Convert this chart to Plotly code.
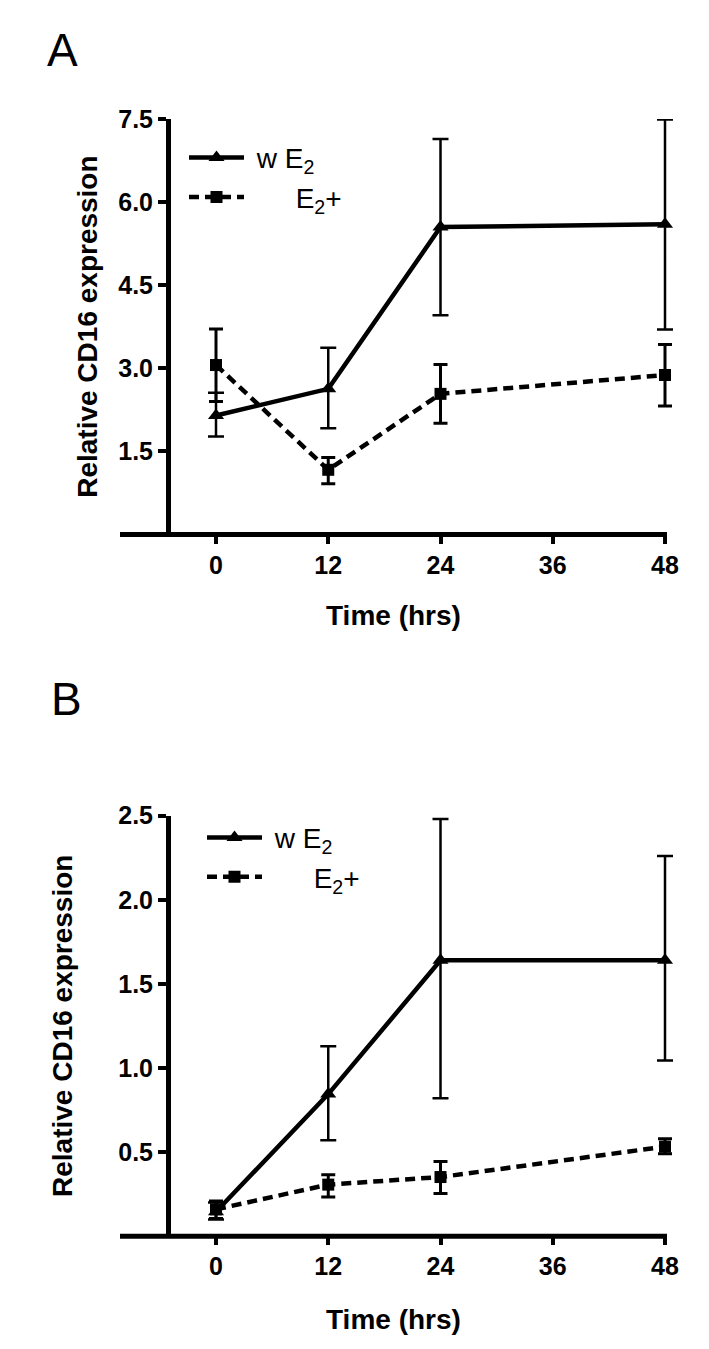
import plotly.graph_objects as go

W, H = 709, 1349

# ---------------- data ----------------
times = [0, 12, 24, 48]
x_ticks = [0, 12, 24, 36, 48]
x_ticktext = ["0", "12", "24", "36", "48"]

# Panel A
a_we2 = [2.15, 2.63, 5.55, 5.60]
a_we2_hi = [2.56, 3.37, 7.14, 7.49]
a_we2_lo = [1.77, 1.92, 3.96, 3.70]
a_e2p = [3.06, 1.17, 2.54, 2.88]
a_e2p_hi = [3.71, 1.39, 3.07, 3.43]
a_e2p_lo = [2.40, 0.92, 2.01, 2.32]
a_yticks = [1.5, 3.0, 4.5, 6.0, 7.5]
a_yticktext = ["1.5", "3.0", "4.5", "6.0", "7.5"]

# Panel B
b_we2 = [0.146, 0.845, 1.64, 1.64]
b_we2_hi = [0.20, 1.13, 2.48, 2.26]
b_we2_lo = [0.10, 0.57, 0.82, 1.045]
b_e2p = [0.16, 0.307, 0.352, 0.533]
b_e2p_hi = [0.21, 0.366, 0.445, 0.579]
b_e2p_lo = [0.106, 0.234, 0.254, 0.49]
b_yticks = [0.5, 1.0, 1.5, 2.0, 2.5]
b_yticktext = ["0.5", "1.0", "1.5", "2.0", "2.5"]

label_we2 = "\u00a0w E<sub>2</sub>"
label_e2p = "\u00a0\u00a0\u00a0\u00a0\u00a0\u00a0E<sub>2</sub>+"

FONT = "Liberation Sans, Arial, sans-serif"


def px(x):
    return x / W


def py(y):
    return 1 - y / H


def errs(v, hi, lo):
    return [h - a for h, a in zip(hi, v)], [a - l for a, l in zip(v, lo)]


fig = go.Figure()


def add_panel(xa, ya, legend, v1, hi1, lo1, v2, hi2, lo2):
    up1, dn1 = errs(v1, hi1, lo1)
    up2, dn2 = errs(v2, hi2, lo2)
    fig.add_trace(go.Scatter(
        x=times, y=v2, xaxis=xa, yaxis=ya, mode="lines+markers",
        name=label_e2p, legend=legend, cliponaxis=False,
        line=dict(color="black", width=4.5, dash="10px,6px"),
        marker=dict(symbol="square", size=12, color="black"),
        error_y=dict(type="data", array=up2, arrayminus=dn2, symmetric=False,
                     color="black", thickness=3, width=7),
    ))
    fig.add_trace(go.Scatter(
        x=times, y=v1, xaxis=xa, yaxis=ya, mode="lines+markers",
        name=label_we2, legend=legend, cliponaxis=False,
        line=dict(color="black", width=4.5),
        marker=dict(symbol="triangle-up", size=14, color="black"),
        error_y=dict(type="data", array=up1, arrayminus=dn1, symmetric=False,
                     color="black", thickness=2.5, width=8),
    ))


add_panel("x", "y", "legend", a_we2, a_we2_hi, a_we2_lo, a_e2p, a_e2p_hi, a_e2p_lo)
add_panel("x2", "y2", "legend2", b_we2, b_we2_hi, b_we2_lo, b_e2p, b_e2p_hi, b_e2p_lo)

# pixel geometry
x_left_px, x0_px, x48_px = 112, 208, 657
xscale = (x48_px - x0_px) / 48.0
x_min = (x_left_px - x0_px) / xscale
x_max_px = x48_px + 20
x_max = (x_max_px - x0_px) / xscale
yaxis_x_px = 160

A_top, A_bot = 98, 518
B_top, B_bot = 802, 1227

tickfont = dict(family=FONT, size=25, color="black", weight="bold")

common_x = dict(range=[x_min, x_max], domain=[px(x_left_px), px(x_max_px)],
                showgrid=False, zeroline=False, showline=False,
                ticks="outside", ticklen=8, tickwidth=4,
                tickcolor="black", tickvals=x_ticks, ticktext=x_ticktext,
                tickfont=tickfont, fixedrange=True)
common_y = dict(showgrid=False, zeroline=False, showline=True, linecolor="black",
                linewidth=5, ticks="outside", ticklen=8, tickwidth=4,
                tickcolor="black", tickfont=tickfont, anchor="free",
                position=px(yaxis_x_px), fixedrange=True)

fig.update_layout(
    width=W, height=H, margin=dict(l=0, r=0, t=0, b=0),
    paper_bgcolor="white", plot_bgcolor="white",
    xaxis=dict(**common_x, anchor="y"),
    yaxis=dict(**common_y, range=[0, 7.5], domain=[py(A_bot), py(A_top)],
               tickvals=a_yticks, ticktext=a_yticktext),
    xaxis2=dict(**common_x, anchor="y2"),
    yaxis2=dict(**common_y, range=[0, 2.5], domain=[py(B_bot), py(B_top)],
                tickvals=b_yticks, ticktext=b_yticktext),
    legend=dict(x=px(176), y=py(112), xanchor="left", yanchor="top",
                font=dict(family=FONT, size=28, color="black"),
                bgcolor="rgba(0,0,0,0)", traceorder="reversed",
                itemwidth=55, tracegroupgap=0),
    legend2=dict(x=px(194), y=py(799), xanchor="left", yanchor="top",
                 font=dict(family=FONT, size=28, color="black"),
                 bgcolor="rgba(0,0,0,0)", traceorder="reversed",
                 itemwidth=55, tracegroupgap=0),
    showlegend=True,
)

# x-axis baselines (axis geometry in page pixels; ends at the 48 h tick)
shapes = []
for bot in (A_bot, B_bot):
    shapes.append(dict(type="line", xref="paper", yref="paper",
                       x0=px(x_left_px), x1=px(x48_px + 2), y0=py(bot), y1=py(bot),
                       line=dict(color="black", width=5)))
fig.update_layout(shapes=shapes)

ann_title = dict(family=FONT, size=28, color="black", weight="bold")
annotations = [
    dict(text="A", x=px(54), y=py(28), font=dict(family=FONT, size=46, color="black")),
    dict(text="B", x=px(58), y=py(684), font=dict(family=FONT, size=46, color="black")),
    dict(text="Relative CD16 expression", x=px(80), y=py((A_top + A_bot) / 2),
         textangle=-90, font=ann_title),
    dict(text="Relative CD16 expression", x=px(55), y=py((B_top + B_bot) / 2),
         textangle=-90, font=ann_title),
    dict(text="Time (hrs)", x=px(385), y=py(600), font=ann_title),
    dict(text="Time (hrs)", x=px(385), y=py(1311), font=ann_title),
]
for a in annotations:
    a.update(xref="paper", yref="paper", showarrow=False, xanchor="center", yanchor="middle")
fig.update_layout(annotations=annotations)

fig.write_html("out.html")
